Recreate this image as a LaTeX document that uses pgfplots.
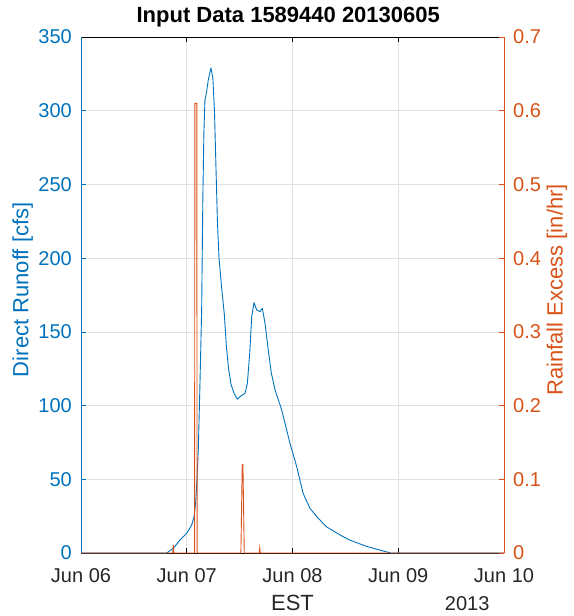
\documentclass[border=0pt]{standalone}
\usepackage{pgfplots}
\pgfplotsset{compat=1.18}
\usepackage{fontspec}
\setmainfont{Liberation Sans}
\definecolor{mblue}{RGB}{0,114,189}
\definecolor{morange}{RGB}{217,83,25}
\definecolor{mgray}{RGB}{38,38,38}
\definecolor{mgrid}{RGB}{225,225,225}
\begin{document}
\begin{tikzpicture}
\pgfplotsset{
  base/.style={scale only axis, width=423pt, height=516pt, xmin=0, xmax=4,
    /pgf/number format/assume math mode=true,
    tick align=inside, major tick length=5pt,
    ticklabel style={font=\fontsize{20}{24}\selectfont},
    label style={font=\fontsize{22}{26}\selectfont},
    axis line style={draw=none},
    clip=false,
  }
}
\begin{axis}[base, ymin=0, ymax=350, ytick={0,50,100,150,200,250,300,350},
  xtick={0,1,2,3,4}, xticklabels={Jun 06,Jun 07,Jun 08,Jun 09,Jun 10},
  xtick pos=both, ytick pos=left, grid=major,
  major grid style={mgrid, line width=0.6pt},
  yticklabel style={mblue, anchor=east, inner sep=0pt, xshift=-9pt},
  xticklabel style={mgray, anchor=base, inner sep=0pt, yshift=-29pt},
  x tick style={black, line width=0.6pt}, y tick style={mblue, line width=0.6pt},
  ylabel={Direct Runoff [cfs]},
  ylabel style={mblue, at={(axis description cs:-0.138,0.51)}, anchor=center},
  xlabel={EST},
  xlabel style={mgray, at={(axis description cs:0.5,-0.1124)}, anchor=base},
  title={Input Data 1589440 20130605},
  title style={font=\fontsize{22}{26}\selectfont\bfseries, black, at={(axis description cs:0.49,1.017)}, anchor=base},
]
\draw[black, line width=0.6pt] (rel axis cs:0,0) -- (rel axis cs:1,0);
\draw[black, line width=0.6pt] (rel axis cs:0,1) -- (rel axis cs:1,1);
\draw[mblue, line width=0.6pt] (rel axis cs:0,0) -- (rel axis cs:0,1);
\addplot[mblue, line width=0.9pt, line join=round] coordinates {
(0,0)(0.81,0)(0.873,3.2)(0.936,8.8)(1.0,13.4)(1.047,19)(1.07,25)(1.085,35)(1.097,50)
(1.11,72)(1.125,115)(1.141,165)(1.152,240)(1.162,285)(1.172,307)(1.188,313)(1.204,321)
(1.229,329)(1.247,322)(1.262,300)(1.275,265)(1.29,225)(1.305,200)(1.33,180)(1.355,162)
(1.375,140)(1.395,125)(1.42,114)(1.45,108)(1.478,104.3)(1.503,106)(1.551,108.3)
(1.573,115)(1.595,135)(1.614,160)(1.636,169.8)(1.661,164.9)(1.693,163.7)
(1.715,166)(1.74,155.8)(1.771,137.7)(1.8,122)(1.835,110.6)(1.898,97)(1.976,74.4)
(2.04,58.5)(2.10,40.5)(2.165,30.3)(2.23,24.6)(2.32,17.8)(2.45,12.2)(2.54,8.8)
(2.7,4.5)(2.85,1.5)(2.93,0)(4,0)
};
\end{axis}
\begin{axis}[base, ymin=0, ymax=0.7, ytick={0,0.1,0.2,0.3,0.4,0.5,0.6,0.7},
  hide x axis, ytick pos=right,
  yticklabel style={morange, anchor=west, inner sep=0pt, xshift=9pt,
    /pgf/number format/fixed, /pgf/number format/precision=1},
  y tick style={morange, line width=0.6pt},
  ylabel={Rainfall Excess [in/hr]},
  ylabel style={morange, at={(axis description cs:1.125,0.51)}, anchor=center},
]
\addplot[morange, line width=0.9pt] coordinates {
(0,0)(0.868,0)(0.873,0.011)(0.878,0)(1.074,0)(1.077,0.61)(1.095,0.61)(1.098,0)
(1.512,0)(1.525,0.12)(1.531,0.12)(1.544,0)(1.685,0)(1.69,0.007)(1.695,0)(4,0)
};
\draw[morange, line width=0.6pt] (rel axis cs:1,0) -- (rel axis cs:1,1);
\node[anchor=base, mgray, font=\fontsize{20}{24}\selectfont] at (axis description cs:0.913,-0.1124) {2013};
\coordinate (ll) at (rel axis cs:0,0);
\coordinate (ur) at (rel axis cs:1,1);
\end{axis}
\pgfresetboundingbox
\path ([xshift=-81pt,yshift=-63pt]ll) rectangle ([xshift=69pt,yshift=37pt]ur);
\end{tikzpicture}
\end{document}
